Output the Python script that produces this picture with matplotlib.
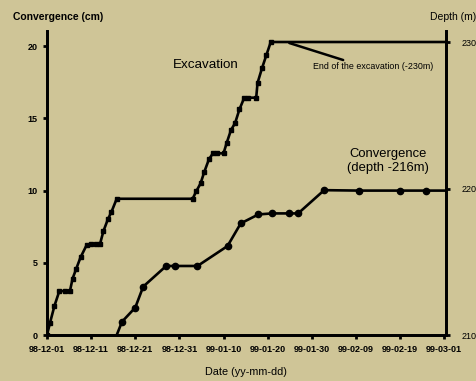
import matplotlib.pyplot as plt

# days after 98-12-01
exc_days = [0, 0.7, 1.7, 2.8, 4.0, 5.2, 5.8, 6.6, 7.6, 9.0, 10.0, 11.0, 12.0, 12.8, 13.8,
            14.6, 15.8, 33.0, 33.8, 34.8, 35.6, 36.7, 37.6, 38.5, 40.0, 40.7, 41.7, 42.6,
            43.6, 44.7, 45.5, 47.4, 47.7, 48.7, 49.7, 50.7]
exc_depth = [210.0, 210.85, 212.0, 213.0, 213.0, 213.0, 213.85, 214.5, 215.3, 216.15, 216.2,
             216.2, 216.2, 217.1, 217.9, 218.4, 219.3, 219.3, 219.8, 220.35, 221.1, 222.0,
             222.4, 222.4, 222.4, 223.1, 224.0, 224.45, 225.4, 226.2, 226.2, 226.2, 227.2,
             228.2, 229.1, 230.0]

conv_days = [15.8, 17.0, 20.0, 21.8, 27.0, 29.1, 34.1, 40.9, 43.9, 47.9, 51.0, 54.9, 56.9,
             62.8, 70.8, 79.9, 85.8]
conv_cm = [0, 0.92, 1.9, 3.35, 4.78, 4.78, 4.78, 6.16, 7.73, 8.35, 8.42, 8.42, 8.42,
           10.03, 10.0, 10.0, 10.0]

tick_days = [0, 10, 20, 30, 40, 50, 60, 70, 80, 90]
tick_labels = ['98-12-01', '98-12-11', '98-12-21', '98-12-31', '99-01-10',
               '99-01-20', '99-01-30', '99-02-09', '99-02-19', '99-03-01']

bg = '#cfc597'
x_end = 90.4

fig = plt.figure(figsize=(4.77, 3.81), dpi=100, facecolor=bg)
ax = fig.add_axes([0.0985, 0.1207, 0.8365, 0.7979])
ax.set_facecolor(bg)
ax2 = ax.twinx()

# convergence on left axis
ax.plot(conv_days + [x_end], conv_cm + [conv_cm[-1]], color='black', lw=1.9, zorder=3)
ax.plot(conv_days[1:], conv_cm[1:], 'o', color='black', ms=4.5, zorder=4)

# excavation on right (depth) axis
ax2.plot(exc_days + [x_end], exc_depth + [exc_depth[-1]], color='black', lw=1.9)
ax2.plot(exc_days, exc_depth, 's', color='black', ms=2.8)

ax.set_xlim(0, x_end)
ax.set_ylim(0, 21.05)
ax2.set_ylim(210, 230.75)

ax.set_xticks(tick_days)
ax.set_xticklabels(tick_labels)
ax.set_yticks([0, 5, 10, 15, 20])
ax2.set_yticks([210, 220, 230])

for a in (ax, ax2):
    a.spines['top'].set_visible(False)
    for s in a.spines.values():
        s.set_linewidth(2)
ax.tick_params(axis='both', direction='out', length=3, width=2, labelsize=6.5, pad=4)
for lab in ax.get_xticklabels() + ax.get_yticklabels():
    lab.set_fontweight('bold')
    lab.set_family('Liberation Sans')
ax2.tick_params(axis='y', direction='out', length=3, width=2, labelsize=6.5, pad=8)
for lab in ax2.get_yticklabels():
    lab.set_family('Liberation Sans')

fig.text(0.027, 0.955, 'Convergence (cm)', fontsize=7.5, fontweight='bold',
         family='Liberation Sans', va='center', ha='left')
fig.text(0.998, 0.955, 'Depth (m)', fontsize=7.5, family='Liberation Sans',
         va='center', ha='right')
fig.text(0.515, 0.024, 'Date (yy-mm-dd)', fontsize=7.8, family='Liberation Sans',
         va='center', ha='center')

ax2.text(36.0, 228.4, 'Excavation', fontsize=9.6, family='Liberation Sans',
         ha='center', va='center')
ax2.text(77.2, 221.9, 'Convergence\n(depth -216m)', fontsize=9.4, family='Liberation Sans',
         ha='center', va='center', linespacing=1.2)
ax2.annotate('', xy=(54.9, 229.93), xytext=(67.1, 228.77),
             arrowprops=dict(arrowstyle='-', color='black', lw=1.8,
                             shrinkA=0, shrinkB=0))
ax2.text(73.8, 228.3, 'End of the excavation (-230m)', fontsize=6.4,
         family='Liberation Sans', ha='center', va='center')

fig.savefig('out.png', dpi=100, facecolor=bg)
